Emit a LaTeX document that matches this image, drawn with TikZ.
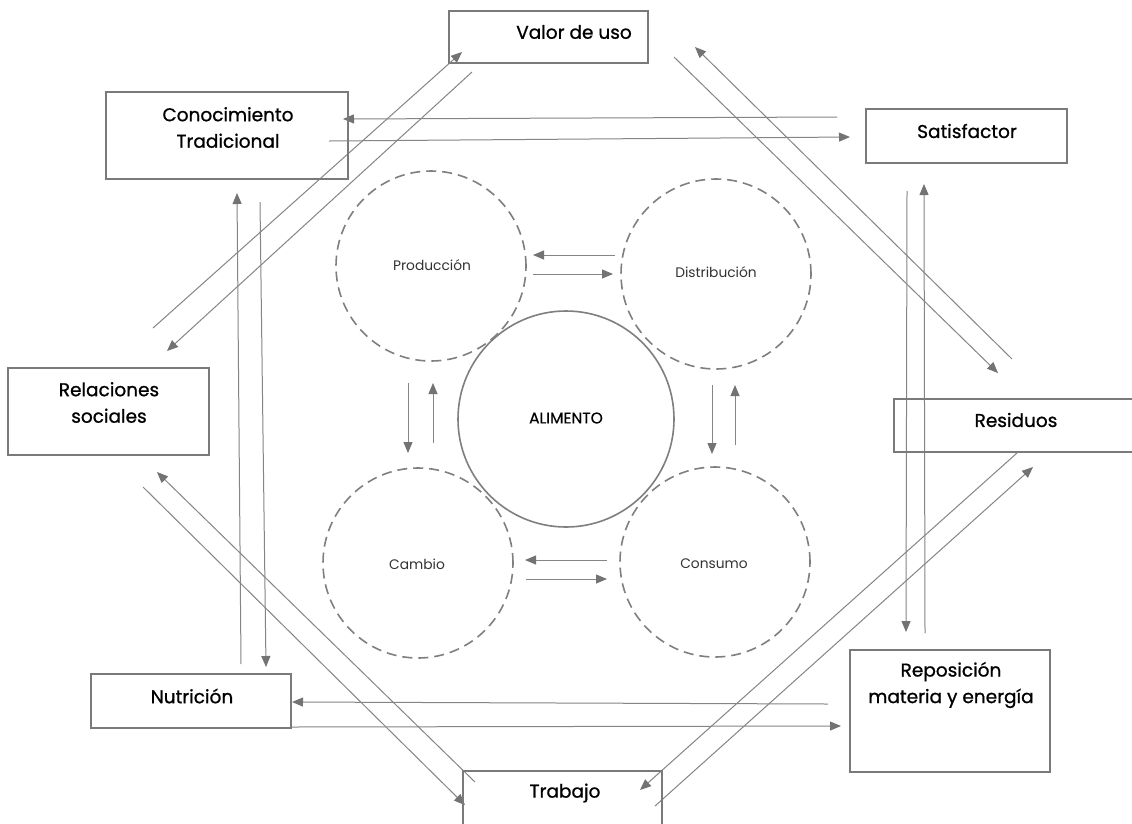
\documentclass[tikz,border=0pt]{standalone}
\usepackage{fontspec}
\setmainfont{Poppins}
\newfontfamily\boxfont[FakeBold=0.9]{Poppins}
\newfontfamily\alimfont[FakeBold=0.6]{Poppins}
\usetikzlibrary{arrows.meta}
\definecolor{lnc}{HTML}{858585}
\definecolor{tipc}{HTML}{737373}
\definecolor{boxc}{HTML}{7A7A7A}
\definecolor{circc}{HTML}{7F7F7F}
\definecolor{ctext}{HTML}{333333}
\tikzset{
  box/.style={draw=boxc, line width=1.6pt, inner sep=0pt},
  btext/.style={font=\boxfont\fontsize{18.5}{26.5}\selectfont, text=black, align=center, inner sep=0pt},
  ctxt/.style={font=\fontsize{13.8}{16}\selectfont, text=ctext, inner sep=0pt},
  atxt/.style={font=\alimfont\fontsize{15.5}{18}\selectfont, text=black, inner sep=0pt},
  dcirc/.style={circle, draw=circc, line width=1.6pt, dash pattern=on 10pt off 6pt, minimum size=190pt, inner sep=0pt},
  acirc/.style={circle, draw=circc, line width=1.6pt, minimum size=216pt, inner sep=0pt},
  arr/.style={draw=lnc, line width=1pt, -{Triangle[length=11pt,width=9pt,color=tipc]}},
}
\begin{document}
\begin{tikzpicture}[x=1pt,y=-1pt]
\useasboundingbox (0,0) rectangle (1132,823);
\fill[white] (0,0) rectangle (1132,823);
\clip (0,0) rectangle (1132,823);

% ---------- circles ----------
\node[dcirc] (prod) at (431,266) {};
\node[dcirc] (dist) at (716,274) {};
\node[dcirc] (camb) at (418,563) {};
\node[dcirc] (cons) at (715,562) {};
\node[acirc] (alim) at (566,419) {};
\node[ctxt] (tprod) at (432,265) {Producción};
\node[ctxt] (tdist) at (716,272) {Distribución};
\node[ctxt] (tcamb) at (417,564) {Cambio};
\node[ctxt] (tcons) at (714,564) {Consumo};
\node[atxt] (talim) at (566,418) {ALIMENTO};

% ---------- small arrows between circles ----------
\coordinate (s1a) at (615,255); \coordinate (s1b) at (533,255);
\coordinate (s2a) at (533,274); \coordinate (s2b) at (613,274);
\coordinate (s3a) at (408,383); \coordinate (s3b) at (408,453);
\coordinate (s4a) at (433,443); \coordinate (s4b) at (433,383);
\coordinate (s5a) at (712,385); \coordinate (s5b) at (712,454);
\coordinate (s6a) at (735,445); \coordinate (s6b) at (735,385);
\coordinate (s7a) at (607,560); \coordinate (s7b) at (525,560);
\coordinate (s8a) at (526,579); \coordinate (s8b) at (607,579);
\draw[arr] (s1a) -- (s1b);
\draw[arr] (s2a) -- (s2b);
\draw[arr] (s3a) -- (s3b);
\draw[arr] (s4a) -- (s4b);
\draw[arr] (s5a) -- (s5b);
\draw[arr] (s6a) -- (s6b);
\draw[arr] (s7a) -- (s7b);
\draw[arr] (s8a) -- (s8b);

% ---------- outer long arrows ----------
\coordinate (l9a) at (837,117);  \coordinate (l9b) at (343,119);
\coordinate (l10a) at (329,141); \coordinate (l10b) at (850,137);
\coordinate (l11a) at (153,328); \coordinate (l11b) at (462,52);
\coordinate (l12a) at (472,72);  \coordinate (l12b) at (167,351);
\coordinate (l13a) at (674,57);  \coordinate (l13b) at (998,373);
\coordinate (l14a) at (1012,359);\coordinate (l14b) at (695,47);
\coordinate (l15a) at (907,191); \coordinate (l15b) at (906,632);
\coordinate (l16a) at (925,633); \coordinate (l16b) at (924,184);
\coordinate (l17a) at (241,664); \coordinate (l17b) at (237,193);
\coordinate (l18a) at (260,202); \coordinate (l18b) at (266,667);
\coordinate (l19a) at (475,782); \coordinate (l19b) at (157,472);
\coordinate (l20a) at (143,487); \coordinate (l20b) at (465,805);
\coordinate (l21a) at (828,704); \coordinate (l21b) at (292,702);
\coordinate (l22a) at (291,727); \coordinate (l22b) at (841,726);
\coordinate (l23a) at (1017,453);\coordinate (l23b) at (640,790);
\coordinate (l24a) at (655,806); \coordinate (l24b) at (1033,467);
\draw[arr] (l9a) -- (l9b);
\draw[arr] (l10a) -- (l10b);
\draw[arr] (l11a) -- (l11b);
\draw[arr] (l12a) -- (l12b);
\draw[arr] (l13a) -- (l13b);
\draw[arr] (l14a) -- (l14b);
\draw[arr] (l15a) -- (l15b);
\draw[arr] (l16a) -- (l16b);
\draw[arr] (l17a) -- (l17b);
\draw[arr] (l18a) -- (l18b);
\draw[arr] (l19a) -- (l19b);
\draw[arr] (l20a) -- (l20b);
\draw[arr] (l21a) -- (l21b);
\draw[arr] (l22a) -- (l22b);
\draw[arr] (l23a) -- (l23b);
\draw[arr] (l24a) -- (l24b);

% ---------- boxes ----------
\node[box, minimum width=199pt, minimum height=52pt] (val) at (548.5,37) {};
\node[box, minimum width=242pt, minimum height=87pt] (con) at (227,135.5) {};
\node[box, minimum width=201pt, minimum height=54pt] (sat) at (966.5,136) {};
\node[box, minimum width=201pt, minimum height=87pt] (rel) at (108.5,411.5) {};
\node[box, minimum width=244pt, minimum height=53pt] (res) at (1016,425.5) {};
\node[box, minimum width=200pt, minimum height=54pt] (nut) at (191,701) {};
\node[box, minimum width=200pt, minimum height=122pt] (rep) at (950,711) {};
\node[box, minimum width=199pt, minimum height=70pt] (tra) at (562.5,806) {};

% ---------- box texts ----------
\node[btext] (tval) at (574,32) {Valor de uso};
\node[btext] (tcon) at (228,127.5) {Conocimiento\\Tradicional};
\node[btext] (tsat) at (967,131) {Satisfactor};
\node[btext] (trel) at (109,402.5) {Relaciones\\sociales};
\node[btext] (tres) at (1016,420) {Residuos};
\node[btext] (tnut) at (192,696) {Nutrición};
\node[btext] (trep) at (951,685) {Reposición\\materia y energía};
\node[btext] (ttra) at (565,793) {Trabajo};
\end{tikzpicture}
\end{document}
